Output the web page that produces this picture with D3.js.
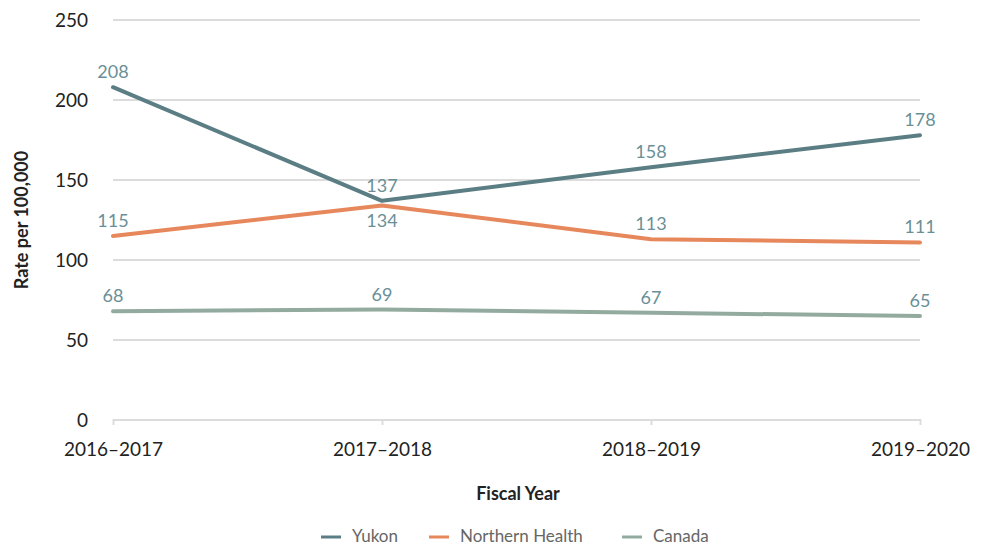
<!DOCTYPE html>
<html>
<head>
<meta charset="utf-8">
<script src="https://cdn.jsdelivr.net/npm/d3@7"></script>
<style>
  body { margin: 0; background: #fff; }
  svg { display: block; font-family: Lato, "Open Sans", sans-serif; }
</style>
</head>
<body>
<svg id="chart" width="985" height="546"></svg>
<script>
// Fiscal years on the x axis
const years = ["2016–2017", "2017–2018", "2018–2019", "2019–2020"];
// Rate per 100,000 for each region
const yukon = [208, 137, 158, 178];
const northernHealth = [115, 134, 113, 111];
const canada = [68, 69, 67, 65];
const yTicks = [0, 50, 100, 150, 200, 250];

const series = [
  { name: "Yukon", values: yukon, color: "#5b7e85", labelBelow: [] },
  { name: "Northern Health", values: northernHealth, color: "#e6875c", labelBelow: [1] },
  { name: "Canada", values: canada, color: "#93ab9f", labelBelow: [] }
];

const svg = d3.select("#chart");
const x = d3.scalePoint().domain(years).range([113, 920]);
const y = d3.scaleLinear().domain([0, 250]).range([420, 20]);

// horizontal gridlines
svg.append("g")
  .selectAll("line")
  .data(yTicks)
  .join("line")
  .attr("x1", 113).attr("x2", 920)
  .attr("y1", d => y(d)).attr("y2", d => y(d))
  .attr("stroke", "#dcdcdc").attr("stroke-width", 2);

// y axis labels
const yAxis = d3.axisLeft(y).tickValues(yTicks).tickSize(0).tickPadding(0);
svg.append("g")
  .attr("transform", "translate(88,0)")
  .call(yAxis)
  .attr("font-family", null)
  .call(g => g.select(".domain").remove())
  .call(g => g.selectAll("text")
    .attr("font-size", 19).attr("fill", "#222"));

// x axis with short tick marks
const xAxis = d3.axisBottom(x).tickSize(6).tickPadding(17);
svg.append("g")
  .attr("transform", "translate(0,419)")
  .call(xAxis)
  .attr("font-family", null)
  .call(g => g.select(".domain").remove())
  .call(g => g.selectAll("line").attr("stroke", "#dcdcdc").attr("stroke-width", 2))
  .call(g => g.selectAll("text")
    .attr("font-size", 19).attr("fill", "#222")
    .attr("dy", "0.75em"));

// axis titles
svg.append("text")
  .attr("x", 518).attr("y", 500)
  .attr("text-anchor", "middle")
  .attr("font-size", 18).attr("font-weight", "bold").attr("fill", "#222")
  .text("Fiscal Year");

svg.append("text")
  .attr("transform", "translate(28,220) rotate(-90)")
  .attr("text-anchor", "middle")
  .attr("font-size", 18).attr("font-weight", "bold").attr("fill", "#222")
  .text("Rate per 100,000");

// lines
const line = d3.line()
  .x((d, i) => x(years[i]))
  .y(d => y(d));

svg.append("g")
  .selectAll("path")
  .data(series)
  .join("path")
  .attr("d", s => line(s.values))
  .attr("fill", "none")
  .attr("stroke", s => s.color)
  .attr("stroke-width", 4)
  .attr("stroke-linecap", "round")
  .attr("stroke-linejoin", "round");

// value labels
series.forEach(s => {
  svg.append("g")
    .selectAll("text")
    .data(s.values)
    .join("text")
    .attr("x", (d, i) => x(years[i]))
    .attr("y", (d, i) => s.labelBelow.includes(i) ? y(d) + 21 : y(d) - 9)
    .attr("text-anchor", "middle")
    .attr("font-size", 18)
    .attr("fill", "#6a8f97")
    .text(d => d);
});

// legend
const legendItems = [
  { name: "Yukon", color: "#5b7e85", x: 321 },
  { name: "Northern Health", color: "#e6875c", x: 429 },
  { name: "Canada", color: "#93ab9f", x: 622 }
];
const legend = svg.append("g");
legendItems.forEach(item => {
  const g = legend.append("g").attr("transform", `translate(${item.x},537)`);
  g.append("line")
    .attr("x1", 0).attr("x2", 20).attr("y1", 0).attr("y2", 0)
    .attr("stroke", item.color).attr("stroke-width", 3);
  g.append("text")
    .attr("x", 31).attr("y", 5)
    .attr("font-size", 17).attr("fill", "#666")
    .text(item.name);
});
</script>
</body>
</html>
